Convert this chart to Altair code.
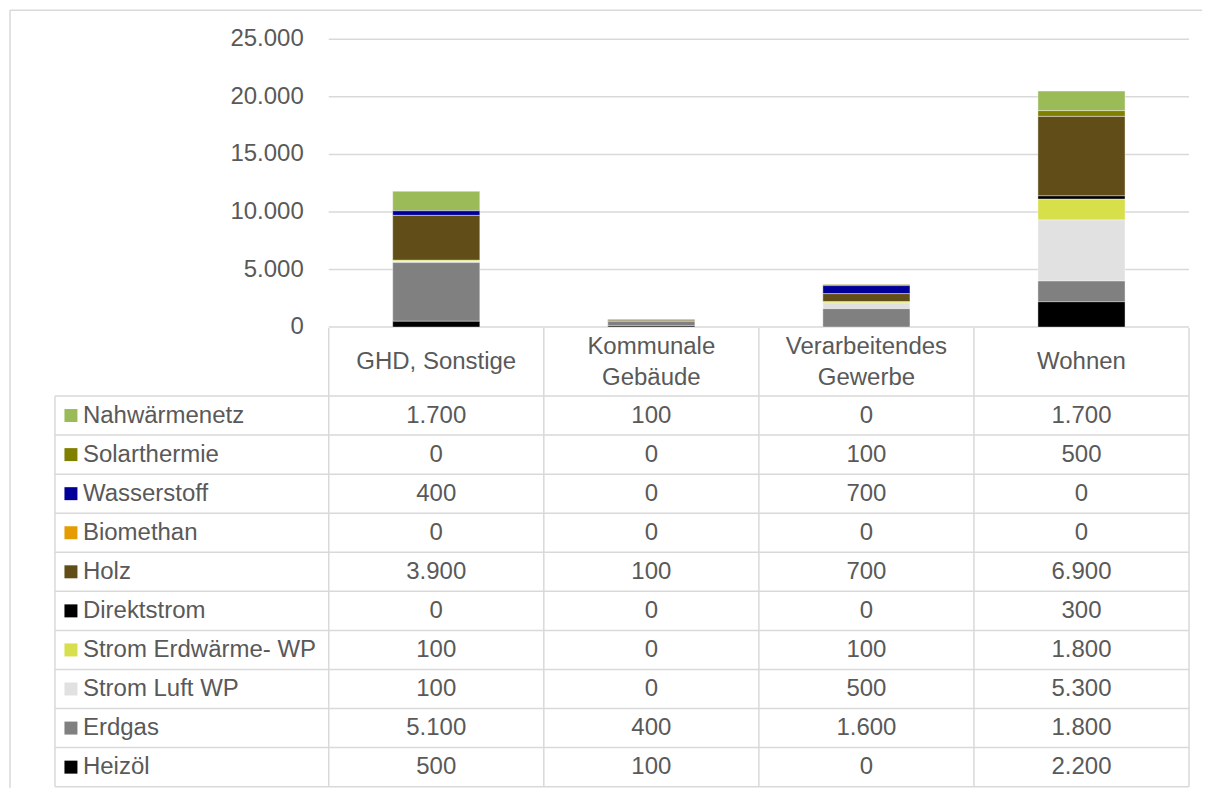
import altair as alt
import pandas as pd

# ---------------- data ----------------
categories = ["GHD, Sonstige", "Kommunale Gebäude", "Verarbeitendes Gewerbe", "Wohnen"]
header_labels = ["GHD, Sonstige", "Kommunale\nGebäude", "Verarbeitendes\nGewerbe", "Wohnen"]

# table order, top to bottom (stacking order is the reverse: Heizöl at the bottom)
fuels = ["Nahwärmenetz", "Solarthermie", "Wasserstoff", "Biomethan", "Holz",
         "Direktstrom", "Strom Erdwärme- WP", "Strom Luft WP", "Erdgas", "Heizöl"]
fuel_colors = ["#9BBB59", "#7F7F00", "#000099", "#E59C00", "#604D17",
               "#000000", "#D7DF4B", "#E1E1E1", "#808080", "#000000"]

nahwaermenetz = [1700, 100, 0, 1700]
solarthermie = [0, 0, 100, 500]
wasserstoff = [400, 0, 700, 0]
biomethan = [0, 0, 0, 0]
holz = [3900, 100, 700, 6900]
direktstrom = [0, 0, 0, 300]
strom_erdwaerme_wp = [100, 0, 100, 1800]
strom_luft_wp = [100, 0, 500, 5300]
erdgas = [5100, 400, 1600, 1800]
heizoel = [500, 100, 0, 2200]

series = [nahwaermenetz, solarthermie, wasserstoff, biomethan, holz,
          direktstrom, strom_erdwaerme_wp, strom_luft_wp, erdgas, heizoel]

y_ticks = [0, 5000, 10000, 15000, 20000, 25000]
y_tick_labels = ["0", "5.000", "10.000", "15.000", "20.000", "25.000"]


def de(v):
    return f"{v:,}".replace(",", ".")


rows = []
for fi, fuel in enumerate(fuels):
    for ci, cat in enumerate(categories):
        v = series[fi][ci]
        rows.append({"fuel": fuel, "cat": cat, "value": v,
                     "stack": len(fuels) - 1 - fi, "label": de(v)})
df = pd.DataFrame(rows)
ticks_df = pd.DataFrame({"tick": y_ticks, "tlabel": y_tick_labels})
header_df = pd.DataFrame({"cat": categories, "hlabel": header_labels,
                          "lines": [h.count("\n") + 1 for h in header_labels]})
legend_df = pd.DataFrame({"fuel": fuels})
row_lines_df = pd.DataFrame({"r": list(range(len(fuels) + 1))})
col_lines_df = pd.DataFrame({"c": list(range(len(categories) + 1))})
one_df = pd.DataFrame({"a": [0]})

# ---------------- layout (pixels inside the chart) ----------------
W, H = 1195, 780
PX0, PX1 = 321, 1182      # plot / table columns
PY_TOP, PY_BOT = 31, 319  # 25000 .. 0
T_TOP = 320               # header top
R_TOP, R_BOT = 388, 779   # table rows
LEG_X = 47                # left edge of legend column
GRID = "#D9D9D9"
TXT = "#595959"
FONT = "Liberation Sans"
FS = 24
LH = 31

y_bar = alt.Scale(domain=[0, 25000], range=[PY_BOT, PY_TOP], nice=False, zero=True)
x_bar = alt.Scale(type="band", domain=categories, range=[PX0, PX1],
                  paddingInner=0.595, paddingOuter=0.2975)
x_col = alt.Scale(type="point", domain=categories, range=[PX0, PX1], padding=0.5)
y_row = alt.Scale(type="point", domain=fuels, range=[R_TOP, R_BOT], padding=0.5)
color_scale = alt.Scale(domain=fuels, range=fuel_colors)

# frame (top and left borders)
frame_top = alt.Chart(one_df).mark_rule(color=GRID, strokeWidth=1.5).encode(
    x=alt.value(2), x2=alt.value(W), y=alt.value(2))
frame_left = alt.Chart(one_df).mark_rule(color=GRID, strokeWidth=1.5).encode(
    x=alt.value(2), y=alt.value(2), y2=alt.value(H))

# gridlines
grid = alt.Chart(ticks_df).mark_rule(color=GRID, strokeWidth=1.5).encode(
    y=alt.Y("tick:Q", scale=y_bar, axis=None),
    x=alt.value(PX0), x2=alt.value(PX1))

tick_text = alt.Chart(ticks_df).mark_text(
    align="right", baseline="middle", font=FONT, fontSize=FS, color=TXT).encode(
    y=alt.Y("tick:Q", scale=y_bar, axis=None),
    x=alt.value(296), text="tlabel:N")

bars = alt.Chart(df).transform_filter("datum.value > 0").mark_bar(
    stroke="white", strokeWidth=0.4).encode(
    x=alt.X("cat:N", scale=x_bar, axis=None),
    y=alt.Y("value:Q", stack="zero", scale=y_bar, axis=None),
    color=alt.Color("fuel:N", scale=color_scale, legend=None),
    order=alt.Order("stack:Q", sort="ascending"))

# table lines
row_lines = alt.Chart(row_lines_df).mark_rule(color=GRID, strokeWidth=1.5).encode(
    y=alt.Y("r:Q", scale=alt.Scale(domain=[0, len(fuels)], range=[R_TOP, R_BOT]), axis=None),
    x=alt.value(LEG_X), x2=alt.value(PX1))
col_lines = alt.Chart(col_lines_df).mark_rule(color=GRID, strokeWidth=1.5).encode(
    x=alt.X("c:Q", scale=alt.Scale(domain=[0, len(categories)], range=[PX0, PX1]), axis=None),
    y=alt.value(T_TOP), y2=alt.value(R_BOT))
leg_left = alt.Chart(one_df).mark_rule(color=GRID, strokeWidth=1.5).encode(
    x=alt.value(LEG_X), y=alt.value(R_TOP), y2=alt.value(R_BOT))

HEAD_MID = 354
header1 = alt.Chart(header_df).transform_filter("datum.lines == 1").mark_text(
    align="center", baseline="middle",
    font=FONT, fontSize=FS, color=TXT).encode(
    x=alt.X("cat:N", scale=x_col, axis=None),
    y=alt.value(HEAD_MID), text="hlabel:N")
header2 = alt.Chart(header_df).transform_filter("datum.lines == 2").mark_text(
    align="center", baseline="middle", lineBreak="\n", lineHeight=LH,
    font=FONT, fontSize=FS, color=TXT).encode(
    x=alt.X("cat:N", scale=x_col, axis=None),
    y=alt.value(HEAD_MID - LH / 2), text="hlabel:N")

values = alt.Chart(df).mark_text(
    align="center", baseline="middle", font=FONT, fontSize=FS, color=TXT).encode(
    x=alt.X("cat:N", scale=x_col, axis=None),
    y=alt.Y("fuel:N", scale=y_row, axis=None),
    text="label:N")

swatches = alt.Chart(legend_df).mark_square(size=169, opacity=1).encode(
    x=alt.value(63),
    y=alt.Y("fuel:N", scale=y_row, axis=None),
    color=alt.Color("fuel:N", scale=color_scale, legend=None))

leg_text = alt.Chart(legend_df).mark_text(
    align="left", baseline="middle", font=FONT, fontSize=FS, color=TXT).encode(
    x=alt.value(75),
    y=alt.Y("fuel:N", scale=y_row, axis=None),
    text="fuel:N")

chart = alt.layer(
    frame_top, frame_left, grid, tick_text, bars, row_lines, col_lines, leg_left,
    header1, header2, values, swatches, leg_text
).resolve_scale(
    x="independent", y="independent"
).properties(
    width=W, height=H, padding=0, autosize=alt.AutoSizeParams(type="none")
).configure_view(stroke=None)

chart.save("out.html", embed_options={"renderer": "svg", "actions": False})
